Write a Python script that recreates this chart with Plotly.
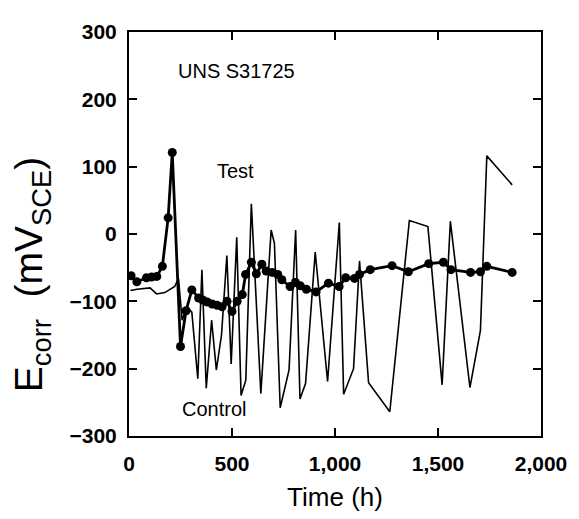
import plotly.graph_objects as go

# Test series (filled circles)
test_t = [10, 38, 85, 110, 135, 162, 190, 210, 250, 277, 305, 338, 358, 380, 404, 428, 452,
          476, 500, 525, 550, 566, 594, 618, 645, 666, 695, 722, 742, 782, 808, 832, 861,
          908, 968, 1020, 1052, 1095, 1119, 1171, 1277, 1356, 1455, 1526, 1563, 1658,
          1706, 1737, 1860]
test_e = [-62, -71, -65, -64, -63, -48, 24, 121, -167, -114, -83, -95, -98, -101, -104, -106, -108,
          -100, -115, -100, -90, -60, -42, -59, -45, -55, -57, -60, -68, -78, -72, -77, -82,
          -86, -73, -78, -65, -66, -60, -53, -47, -56, -44, -42, -53, -57,
          -56, -48, -57]

# Control series (thin line)
ctrl_t = [7, 39, 102, 134, 174, 222, 240, 258, 280, 305, 334, 354, 375, 401, 424, 449, 475,
          496, 523, 544, 567, 594, 640, 690, 706, 734, 777, 809, 830, 857, 904, 964, 1021,
          1042, 1090, 1119, 1163, 1266, 1361, 1451, 1520, 1560, 1655, 1706, 1737, 1860]
ctrl_e = [-84, -82, -80, -89, -87, -78, -66, -128, -108, -116, -215, -53, -229, -128, -202, -150, -32,
          -193, -5, -240, -217, 45, -237, 6, -14, -258, -202, 6, -245, -222, -27, -219, 17,
          -238, -200, -40, -221, -264, 20, 11, -224, 19, -228, -143, 116, 73]

x_ticks = [0, 500, 1000, 1500, 2000]
x_tick_labels = ["0", "500", "1,000", "1,500", "2,000"]
y_ticks = [-300, -200, -100, 0, 100, 200, 300]
y_tick_labels = ["\u2212300", "\u2212200", "\u2212100", "0", "100", "200", "300"]

FONT = "Liberation Sans"

fig = go.Figure()
fig.add_trace(go.Scatter(x=ctrl_t, y=ctrl_e, mode="lines",
                         line=dict(color="black", width=1.6), name="Control"))
fig.add_trace(go.Scatter(x=test_t, y=test_e, mode="lines+markers",
                         line=dict(color="black", width=2.8),
                         marker=dict(size=9, color="black"), name="Test"))

axis_common = dict(showline=True, linecolor="black", linewidth=2, mirror="ticks",
                   ticks="inside", ticklen=8, tickwidth=1.5, tickcolor="black",
                   showgrid=False, zeroline=False,
                   tickfont=dict(family=FONT, size=21, color="black", weight="bold"))

fig.update_layout(
    width=571, height=511,
    margin=dict(l=121, r=31, t=15, b=82),
    plot_bgcolor="white", paper_bgcolor="white",
    showlegend=False,
    font=dict(family=FONT, color="black"),
    xaxis=dict(range=[0, 2000], tickvals=x_ticks, ticktext=x_tick_labels,
               ticklabelstandoff=8,
               title=dict(text="Time (h)", font=dict(size=26, family=FONT), standoff=14),
               **axis_common),
    yaxis=dict(range=[-300, 300], tickvals=y_ticks, ticktext=y_tick_labels,
               ticklabelstandoff=6,
               **axis_common),
)

fig.add_annotation(xref="paper", yref="paper", x=-0.236, y=0.40,
                   xanchor="center", yanchor="middle",
                   text="E<sub>corr</sub>  (mV<sub>SCE</sub>)", textangle=-90,
                   showarrow=False, font=dict(size=39, family=FONT, color="black"))
fig.add_annotation(x=521, y=242, text="UNS S31725", showarrow=False,
                   font=dict(size=20, family=FONT, color="black"))
fig.add_annotation(x=515, y=93, text="Test", showarrow=False,
                   font=dict(size=20, family=FONT, color="black"))
fig.add_annotation(x=413, y=-260, text="Control", showarrow=False,
                   font=dict(size=20, family=FONT, color="black"))

fig.write_html("out.html")
